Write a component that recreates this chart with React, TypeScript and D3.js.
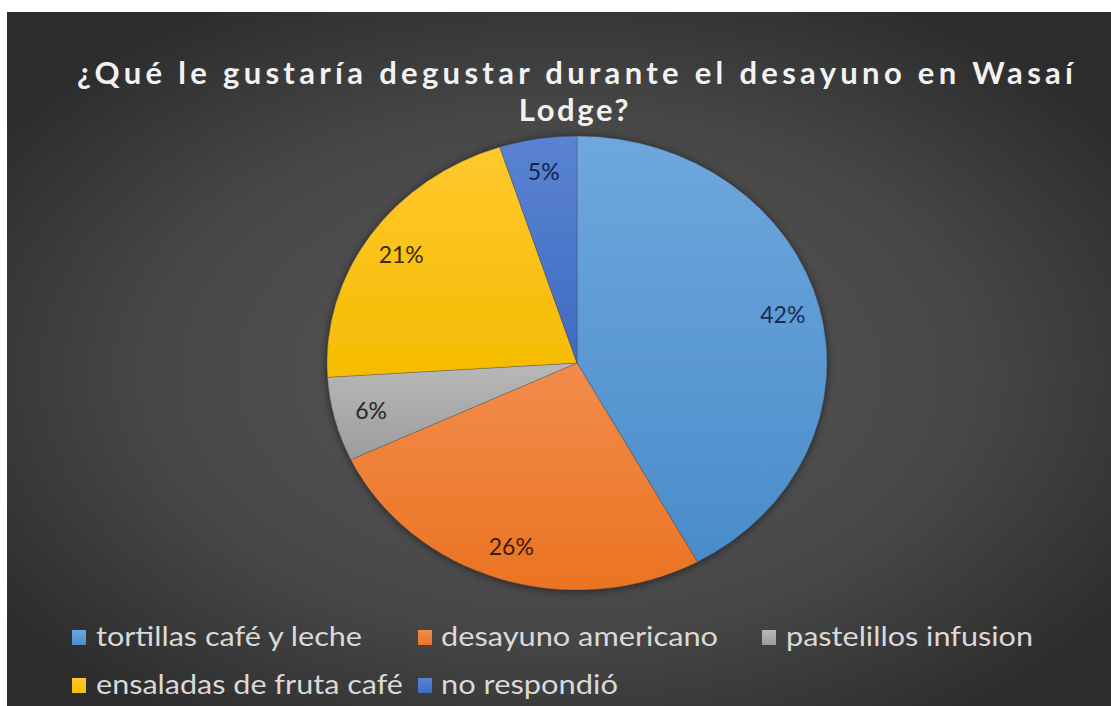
import React from 'react';
import * as d3 from 'd3';

const categories = [
  'tortillas café y leche',
  'desayuno americano',
  'pastelillos infusion',
  'ensaladas de fruta café',
  'no respondió',
];
const values = [42, 26, 6, 21, 5];
const percentLabels = ['42%', '26%', '6%', '21%', '5%'];
const titleLines = ['¿Qué le gustaría degustar durante el desayuno en Wasaí', 'Lodge?'];

const colorTop = ['#6ea7dd', '#f28c4b', '#b8b8b8', '#ffc82e', '#5a83d2'];
const colorBottom = ['#4a8ccb', '#eb7322', '#9c9c9c', '#f5bc00', '#3f6bc2'];
const labelColors = ['#1b2c52', '#3a1c06', '#262626', '#3a2a00', '#14234a'];

const W = 1111;
const H = 706;
const cx = 577;
const cy = 363;
const R = 227;
const sx = 250 / 227;

// legend layout (row, x of square, x of text, text width)
const legendLayout = [
  { row: 0, sq: 72, tx: 96, tw: 266 },
  { row: 0, sq: 418, tx: 441, tw: 277 },
  { row: 0, sq: 762, tx: 786, tw: 247 },
  { row: 1, sq: 72, tx: 96, tw: 307 },
  { row: 1, sq: 418, tx: 441, tw: 177 },
];
const rowBase = [646, 694];

export default function App() {
  const pie = d3
    .pie<number>()
    .sort(null)
    .value((d) => d)
    .startAngle(0)
    .endAngle(2 * Math.PI);
  const arcs = pie(values);
  const arc = d3.arc<d3.PieArcDatum<number>>().innerRadius(0).outerRadius(R);
  const labelArc = d3
    .arc<d3.PieArcDatum<number>>()
    .innerRadius(R * 0.85)
    .outerRadius(R * 0.85);

  return (
    <div style={{ position: 'absolute', left: 0, top: 0 }}>
      <svg width={W} height={H} style={{ display: 'block', background: '#fff' }}>
        <defs>
          <radialGradient id="bg" cx="50%" cy="52%" r="62%">
            <stop offset="0%" stopColor="#585858" />
            <stop offset="60%" stopColor="#474747" />
            <stop offset="100%" stopColor="#2c2c2c" />
          </radialGradient>
          {arcs.map((a, i) => (
            <linearGradient key={i} id={`g${i}`} x1="0" y1="0" x2="0" y2="1">
              <stop offset="0%" stopColor={colorTop[i]} />
              <stop offset="100%" stopColor={colorBottom[i]} />
            </linearGradient>
          ))}
          <filter id="sh" x="-20%" y="-20%" width="140%" height="140%">
            <feDropShadow dx="0" dy="1" stdDeviation="4" floodColor="#000" floodOpacity="0.55" />
          </filter>
        </defs>
        <rect x={7} y={12} width={W - 7} height={H - 12} fill="url(#bg)" />

        {titleLines.map((t, i) => (
          <text
            key={i}
            x={575}
            y={i === 0 ? 84 : 121}
            textAnchor="middle"
            fontFamily="Lato, sans-serif"
            fontWeight={700}
            fontSize={31}
            fill="#f2f2f2"
            letterSpacing={i === 0 ? undefined : 2.6}
            textLength={i === 0 ? 996 : undefined}
            lengthAdjust="spacing"
          >
            {t}
          </text>
        ))}

        <g transform={`translate(${cx},${cy}) scale(${sx},1)`} filter="url(#sh)">
          {arcs.map((a, i) => (
            <path
              key={i}
              d={arc(a) || ''}
              fill={`url(#g${i})`}
              stroke="rgba(60,60,60,0.35)"
              strokeWidth={0.8}
            />
          ))}
        </g>

        {arcs.map((a, i) => {
          const [lx, ly] = labelArc.centroid(a);
          return (
            <text
              key={i}
              x={cx + lx * sx}
              y={cy + ly}
              dy="0.35em"
              textAnchor="middle"
              fontFamily="Lato, sans-serif"
              fontSize={23}
              fill={labelColors[i]}
            >
              {percentLabels[i]}
            </text>
          );
        })}

        {categories.map((c, i) => {
          const L = legendLayout[i];
          const base = rowBase[L.row];
          return (
            <g key={i}>
              <rect
                x={L.sq}
                y={base - 16}
                width={14}
                height={15}
                fill={`url(#g${i})`}
              />
              <text
                x={L.tx}
                y={base}
                fontFamily="Lato, sans-serif"
                fontSize={27}
                fill="#d9d9d9"
                textLength={L.tw}
                lengthAdjust="spacingAndGlyphs"
              >
                {c}
              </text>
            </g>
          );
        })}
      </svg>
    </div>
  );
}
